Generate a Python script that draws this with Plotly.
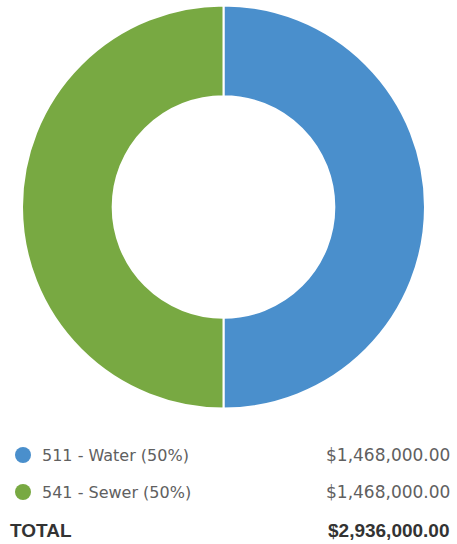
import plotly.graph_objects as go

labels = ["511 - Water", "541 - Sewer"]
values = [1468000, 1468000]
colors = ["#4a8fcc", "#78a942"]

W, H = 457, 544
total = sum(values)

fig = go.Figure()

fig.add_trace(go.Pie(
    labels=labels,
    values=values,
    hole=0.55,
    sort=False,
    direction="clockwise",
    rotation=0,
    textinfo="none",
    marker=dict(colors=colors, line=dict(color="white", width=2)),
    showlegend=False,
    domain=dict(x=[22 / W, 425 / W], y=[1 - 409 / H, 1 - 5 / H]),
))

# legend rows below the donut
row_y = [455, 492]
for i, (lab, val) in enumerate(zip(labels, values)):
    y = 1 - row_y[i] / H
    pct = round(100 * val / total)
    fig.add_shape(type="circle", xref="paper", yref="paper",
                  x0=15 / W, x1=31 / W, y0=y - 8 / H, y1=y + 8 / H,
                  fillcolor=colors[i], line=dict(width=0))
    fig.add_annotation(x=40 / W, y=y, xref="paper", yref="paper",
                       text=f"{lab} ({pct}%)", showarrow=False,
                       xanchor="left", yanchor="middle",
                       font=dict(family="DejaVu Sans", size=16, color="#606060"))
    fig.add_annotation(x=452 / W, y=y, xref="paper", yref="paper",
                       text=f"${val:,.2f}", showarrow=False,
                       xanchor="right", yanchor="middle",
                       font=dict(family="DejaVu Sans", size=17, color="#606060"))

ty = 1 - 530 / H
fig.add_annotation(x=8 / W, y=ty, xref="paper", yref="paper",
                   text="<b>TOTAL</b>", showarrow=False,
                   xanchor="left", yanchor="middle",
                   font=dict(family="Liberation Sans", size=19, color="#333333"))
fig.add_annotation(x=452 / W, y=ty, xref="paper", yref="paper",
                   text=f"<b>${total:,.2f}</b>", showarrow=False,
                   xanchor="right", yanchor="middle",
                   font=dict(family="Liberation Sans", size=19, color="#333333"))

fig.update_layout(
    width=W, height=H,
    margin=dict(l=0, r=0, t=0, b=0),
    paper_bgcolor="white",
    plot_bgcolor="white",
)

fig.write_html("out.html", config={"displayModeBar": False},
               post_script="document.body.style.margin='0';")
